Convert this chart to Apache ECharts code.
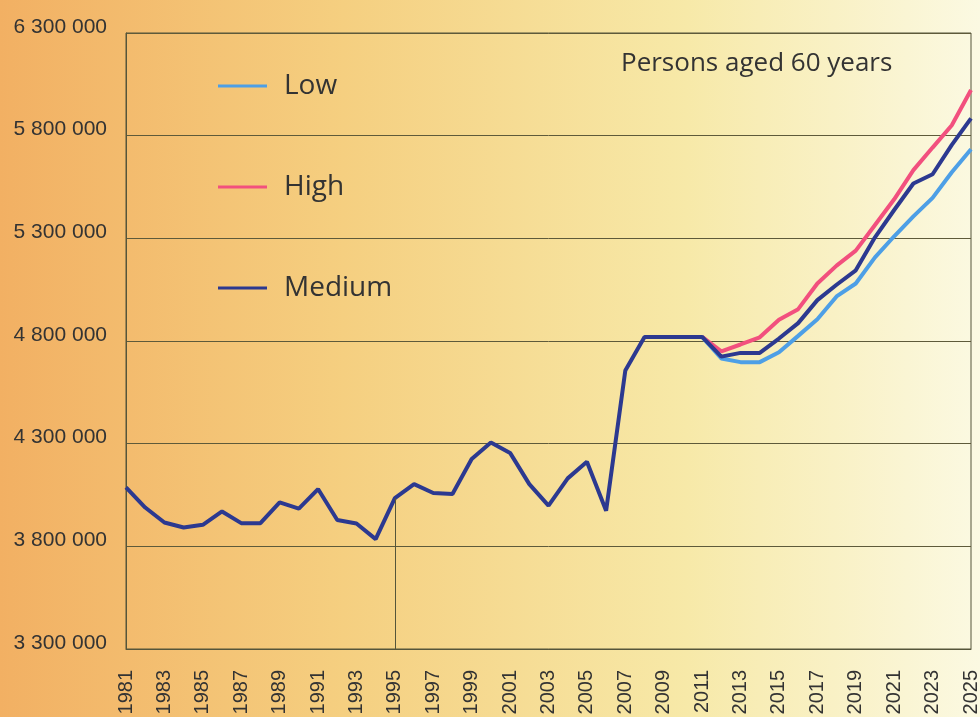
<!DOCTYPE html>
<html lang="en">
<head>
	<meta charset="UTF-8">
	<title>Persons aged 60 years</title>
	<style type="text/css">
		html, body{
			margin: 0;
			padding: 0;
		}
		.box{
			width: 980px;
			height: 717px;
		}
	</style>
</head>
<body>
	<div class="box"></div>
	<script type="text/javascript" src="https://cdn.jsdelivr.net/npm/echarts@6/dist/echarts.min.js"></script>
	<script type="text/javascript">
		//数据
		var years = ['1981', '1982', '1983', '1984', '1985', '1986', '1987', '1988', '1989', '1990',
			'1991', '1992', '1993', '1994', '1995', '1996', '1997', '1998', '1999', '2000',
			'2001', '2002', '2003', '2004', '2005', '2006', '2007', '2008', '2009', '2010',
			'2011', '2012', '2013', '2014', '2015', '2016', '2017', '2018', '2019', '2020',
			'2021', '2022', '2023', '2024', '2025'];
		var medium = [4087000, 3989000, 3916000, 3892000, 3905000, 3970000, 3913000, 3913000, 4014000, 3984000,
			4079000, 3928000, 3911000, 3835000, 4035000, 4103000, 4060000, 4055000, 4225000, 4306000,
			4255000, 4103000, 3998000, 4131000, 4212000, 3973000, 4656000, 4820000, 4820000, 4820000,
			4820000, 4724000, 4742000, 4742000, 4812000, 4887000, 4999000, 5074000, 5144000, 5305000,
			5438000, 5567000, 5612000, 5755000, 5884000];
		// projections from 2011 on
		var high = [4820000, 4750000, 4783000, 4818000, 4903000, 4955000, 5080000, 5167000, 5240000, 5365000,
			5490000, 5632000, 5742000, 5851000, 6022000];
		var low = [4820000, 4715000, 4697000, 4697000, 4745000, 4825000, 4906000, 5017000, 5080000, 5207000,
			5310000, 5407000, 5497000, 5622000, 5734000];
		var yTicks = [3300000, 3800000, 4300000, 4800000, 5300000, 5800000, 6300000];
		var markYear = '1995';

		var pad = years.length - high.length;
		function padded(arr){
			return new Array(pad).fill(null).concat(arr);
		}
		function fmt(v){
			return String(v).replace(/\B(?=(\d{3})+(?!\d))/g, ' ');
		}

		var myChart = echarts.init(document.querySelector('.box'));
		var option = {
			backgroundColor: new echarts.graphic.LinearGradient(0, 0, 1, 0, [
				{offset: 0, color: '#f2b063'},
				{offset: 0.35, color: '#f5cf80'},
				{offset: 0.7, color: '#f7e9a8'},
				{offset: 1, color: '#fbf9e2'}
			]),
			animation: false,
			title: {
				text: 'Persons aged 60 years',
				left: 616,
				top: 46,
				textStyle: {
					fontFamily: 'Open Sans',
					fontSize: 26,
					fontWeight: 'normal',
					color: '#333'
				}
			},
			legend: {
				data: ['Low', 'High', 'Medium'],
				orient: 'vertical',
				left: 213,
				top: 67,
				itemGap: 73,
				icon: 'rect',
				itemWidth: 49,
				itemHeight: 3,
				textStyle: {
					fontFamily: 'Open Sans',
					fontSize: 28,
					color: '#333',
					padding: [0, 0, 0, 12]
				}
			},
			grid: {
				left: 126,
				right: 9,
				top: 33,
				bottom: 68,
				outerBoundsMode: 'none',
				show: true,
				borderColor: '#55553a',
				borderWidth: 1
			},
			xAxis: {
				type: 'category',
				data: years,
				boundaryGap: false,
				axisLine: {lineStyle: {color: '#55553a'}},
				axisTick: {show: false},
				axisLabel: {
					interval: 1,
					rotate: 90,
					margin: 21,
					fontFamily: 'Liberation Sans',
					fontSize: 20,
					color: '#333'
				}
			},
			yAxis: {
				type: 'value',
				min: yTicks[0],
				max: yTicks[yTicks.length - 1],
				interval: 500000,
				axisLine: {show: true, lineStyle: {color: '#55553a'}},
				axisTick: {show: false},
				splitLine: {lineStyle: {color: '#5e5a3a', width: 1}},
				axisLabel: {
					margin: 19,
					fontFamily: 'Liberation Sans',
					fontSize: 21,
					color: '#333',
					verticalAlign: 'bottom',
					lineHeight: 12,
					formatter: fmt
				}
			},
			series: [
				{
					name: 'Low',
					type: 'line',
					data: padded(low),
					showSymbol: false,
					color: '#4d9fe6',
					lineStyle: {width: 4}
				},
				{
					name: 'High',
					type: 'line',
					data: padded(high),
					showSymbol: false,
					color: '#f2507e',
					lineStyle: {width: 4}
				},
				{
					name: 'Medium',
					type: 'line',
					data: medium,
					showSymbol: false,
					color: '#2c3990',
					lineStyle: {width: 4},
					markLine: {
						silent: true,
						symbol: 'none',
						label: {show: false},
						lineStyle: {color: '#55553a', width: 1, type: 'solid'},
						data: [[
							{coord: [markYear, medium[years.indexOf(markYear)]]},
							{coord: [markYear, yTicks[0]]}
						]]
					}
				}
			]
		};
		myChart.setOption(option);
	</script>
</body>
</html>
